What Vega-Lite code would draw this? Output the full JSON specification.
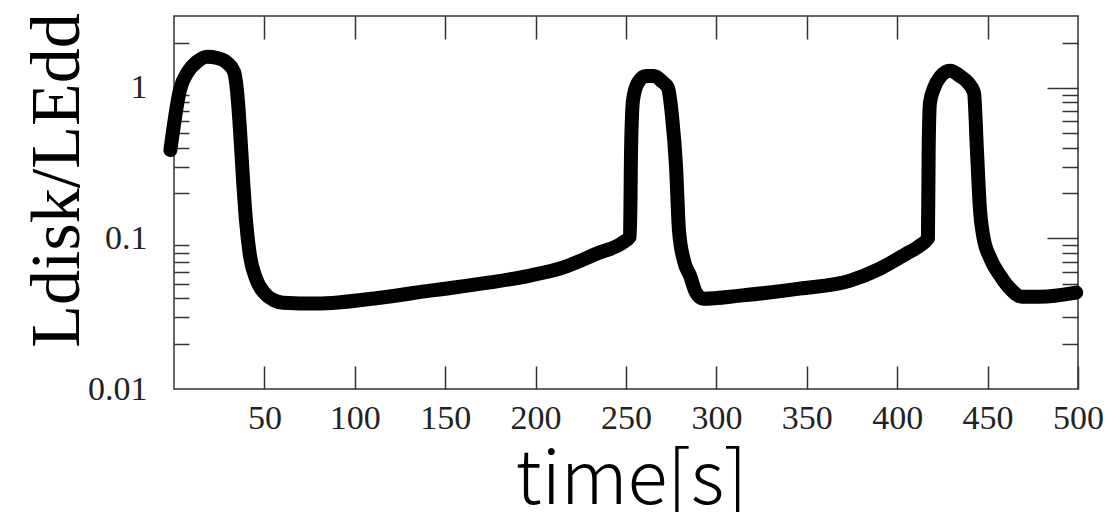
{
  "$schema": "https://vega.github.io/schema/vega-lite/v6.json",
  "width": 904,
  "height": 373,
  "autosize": {"type": "none"},
  "padding": {"left": 174, "top": 16, "right": 34, "bottom": 123},
  "background": "white",
  "config": {
    "view": {"stroke": "#333", "strokeWidth": 1.5},
    "axis": {"domain": false, "grid": false, "tickColor": "#333", "tickWidth": 1.5, "labelFont": "Liberation Serif", "labelFontSize": 34, "labelColor": "#222"}
  },
  "data": {"values": [
    {"t": -2, "L": 0.386}, {"t": 3.3, "L": 0.97}, {"t": 7.7, "L": 1.28}, {"t": 12.7, "L": 1.49},
    {"t": 18.3, "L": 1.61}, {"t": 23.8, "L": 1.58}, {"t": 29.3, "L": 1.47}, {"t": 33.2, "L": 1.28},
    {"t": 34.8, "L": 0.97}, {"t": 36.5, "L": 0.525}, {"t": 38.2, "L": 0.244}, {"t": 39.8, "L": 0.132},
    {"t": 42, "L": 0.077}, {"t": 45.4, "L": 0.054}, {"t": 50.3, "L": 0.043}, {"t": 55, "L": 0.039},
    {"t": 60.3, "L": 0.0374}, {"t": 79, "L": 0.0369}, {"t": 114, "L": 0.0404}, {"t": 141.6, "L": 0.045},
    {"t": 174.8, "L": 0.051}, {"t": 197, "L": 0.0567}, {"t": 215, "L": 0.064}, {"t": 234, "L": 0.0794},
    {"t": 248.3, "L": 0.094}, {"t": 252.2, "L": 0.103}, {"t": 252.8, "L": 0.386}, {"t": 253.9, "L": 0.832},
    {"t": 256.6, "L": 1.08}, {"t": 261, "L": 1.2}, {"t": 265.5, "L": 1.2}, {"t": 270, "L": 1.1},
    {"t": 273.2, "L": 1.0}, {"t": 275.4, "L": 0.66}, {"t": 277.7, "L": 0.297}, {"t": 279.3, "L": 0.113},
    {"t": 282, "L": 0.0714}, {"t": 285.4, "L": 0.0567}, {"t": 288.7, "L": 0.0437}, {"t": 292.6, "L": 0.0398},
    {"t": 313, "L": 0.0417}, {"t": 346, "L": 0.0464}, {"t": 374, "L": 0.0525}, {"t": 390.5, "L": 0.063},
    {"t": 404.3, "L": 0.0782}, {"t": 412.6, "L": 0.0898}, {"t": 417, "L": 0.1}, {"t": 417.4, "L": 0.386},
    {"t": 418.1, "L": 0.794}, {"t": 420.4, "L": 1.0}, {"t": 423.7, "L": 1.18}, {"t": 429.2, "L": 1.3},
    {"t": 434.7, "L": 1.2}, {"t": 439.2, "L": 1.08}, {"t": 442.5, "L": 0.926}, {"t": 444.1, "L": 0.386},
    {"t": 445.8, "L": 0.154}, {"t": 447.5, "L": 0.105}, {"t": 451.3, "L": 0.0747}, {"t": 456.9, "L": 0.0567},
    {"t": 462.4, "L": 0.0464}, {"t": 469, "L": 0.041}, {"t": 479, "L": 0.041}, {"t": 499, "L": 0.0437}
  ]},
  "layer": [
    {
      "mark": {"type": "line", "color": "black", "strokeWidth": 14, "strokeCap": "round", "strokeJoin": "round", "interpolate": "monotone"},
      "encoding": {
        "x": {
          "field": "t", "type": "quantitative",
          "scale": {"domain": [0, 500], "nice": false, "zero": false},
          "axis": {
            "orient": "bottom",
            "values": [50, 100, 150, 200, 250, 300, 350, 400, 450, 500],
            "tickSize": -23, "labelPadding": 35, "labelFlush": false,
            "title": "time[s]", "titleFont": "Noto Sans CJK JP", "titleFontSize": 74, "titleFontWeight": 300,
            "titleColor": "black", "titleX": 457, "titleY": 114, "titleBaseline": "alphabetic", "titleAlign": "center"
          }
        },
        "y": {
          "field": "L", "type": "quantitative",
          "scale": {"type": "log", "domain": [0.01, 3], "nice": false},
          "axis": {
            "orient": "left",
            "values": [2, 1, 0.9, 0.8, 0.7, 0.6, 0.5, 0.4, 0.3, 0.2, 0.1, 0.09, 0.08, 0.07, 0.06, 0.05, 0.04, 0.03, 0.02, 0.01],
            "labelExpr": "datum.value == 1 ? '1' : datum.value == 0.1 ? '0.1' : datum.value == 0.01 ? '0.01' : ''",
            "tickSize": {"condition": {"test": "datum.value == 1 || datum.value == 0.1 || datum.value == 0.01", "value": 0}, "value": -15},
            "labelPadding": 27, "labelFlush": false,
            "title": "Ldisk/LEdd", "titleFont": "Liberation Serif", "titleFontSize": 70, "titleFontWeight": "normal",
            "titleColor": "black", "titleAngle": -90, "titleX": -96, "titleY": 164, "titleBaseline": "alphabetic", "titleAlign": "center"
          }
        }
      }
    },
    {
      "mark": {"type": "line", "opacity": 0},
      "encoding": {
        "x": {
          "field": "t", "type": "quantitative",
          "axis": {"orient": "top", "values": [50, 100, 150, 200, 250, 300, 350, 400, 450], "tickSize": -23, "labels": false, "title": null}
        },
        "y": {
          "field": "L", "type": "quantitative",
          "axis": {
            "orient": "right",
            "values": [2, 1, 0.9, 0.8, 0.7, 0.6, 0.5, 0.4, 0.3, 0.2, 0.1, 0.09, 0.08, 0.07, 0.06, 0.05, 0.04, 0.03, 0.02],
            "tickSize": {"condition": {"test": "datum.value == 1 || datum.value == 0.1", "value": -31}, "value": -16},
            "labels": false, "title": null
          }
        }
      }
    }
  ],
  "resolve": {"axis": {"x": "independent", "y": "independent"}}
}
